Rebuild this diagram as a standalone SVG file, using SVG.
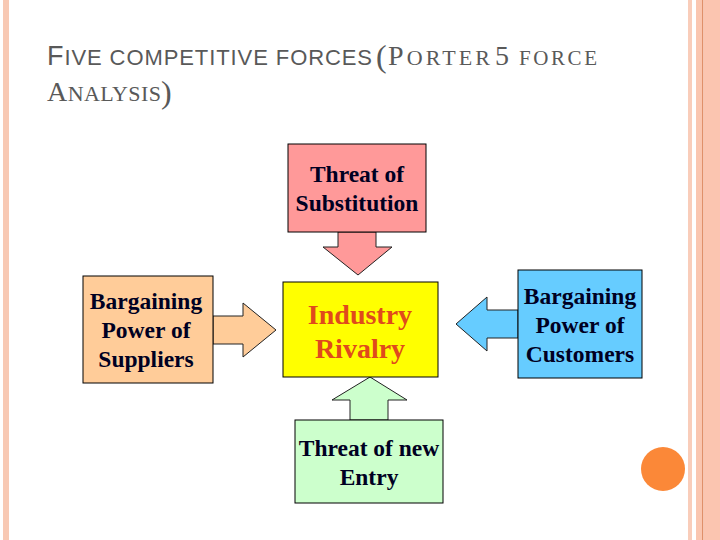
<svg xmlns="http://www.w3.org/2000/svg" width="720" height="540" viewBox="0 0 720 540">
<style>
.box{stroke:#000;stroke-width:1}
.arr{stroke:#222;stroke-width:1}
.lbl{font-family:"Liberation Serif","Times New Roman",serif;font-weight:bold;font-size:23.5px;fill:#000022;text-anchor:middle}
.core{font-family:"Liberation Serif","Times New Roman",serif;font-weight:bold;font-size:28px;fill:#E04A1C;text-anchor:middle}
.ts{font-family:"Liberation Sans",Arial,sans-serif;fill:#595959}
.tr{font-family:"Liberation Serif","Times New Roman",serif;fill:#595959}
</style>
<rect width="720" height="540" fill="#fff"/>
<g id="frame">
<rect x="3" y="0" width="6" height="540" fill="#F8C9B4"/>
<rect x="688" y="0" width="4" height="540" fill="#F9CDBA"/>
<rect x="696" y="0" width="6" height="540" fill="#FAC6B0"/>
<rect x="702" y="0" width="1.5" height="540" fill="#E0906A"/>
<rect x="703.5" y="0" width="16.5" height="540" fill="#FBC5B0"/>
<circle cx="663" cy="469" r="22" fill="#FB8838"/>
</g>
<g id="title">
<text class="ts" x="47" y="65" font-size="22" textLength="325" lengthAdjust="spacing"><tspan font-size="27">F</tspan>IVE COMPETITIVE FORCES</text>
<text class="tr" x="376" y="67" font-size="32">(</text>
<text class="tr" x="388" y="65" font-size="22" textLength="102" lengthAdjust="spacing"><tspan font-size="28">P</tspan>ORTER</text>
<text class="tr" x="495" y="65" font-size="28">5</text>
<text class="tr" x="519" y="65" font-size="21" textLength="78" lengthAdjust="spacing">FORCE</text>
<text class="tr" x="47" y="101" font-size="22" textLength="114" lengthAdjust="spacing"><tspan font-size="28">A</tspan>NALYSIS</text>
<text class="tr" x="161" y="103" font-size="32">)</text>
</g>
<g id="connectors">
<polygon class="arr" fill="#FF9999" points="338,232 376,232 376,247 392,247 358,275 323,247 338,247"/>
<polygon class="arr" fill="#FFCC99" points="213,316 243,316 243,303 276,330 243,357 243,344 213,344"/>
<polygon class="arr" fill="#66CCFF" points="518,310 487,310 487,297 456,324 487,351 487,338 518,338"/>
<polygon class="arr" fill="#CCFFCC" points="350,420 350,400 332,400 370,377 407,400 388,400 388,420"/>
</g>
<g id="substitution">
<rect class="box" x="288" y="144" width="138" height="88" fill="#FF9999"/>
<text class="lbl" x="357" y="182">Threat of</text>
<text class="lbl" x="357" y="211">Substitution</text>
</g>
<g id="suppliers">
<rect class="box" x="83" y="276" width="130" height="107" fill="#FFCC99"/>
<text class="lbl" x="146" y="309">Bargaining</text>
<text class="lbl" x="146" y="338">Power of</text>
<text class="lbl" x="146" y="367">Suppliers</text>
</g>
<g id="rivalry">
<rect class="box" x="283" y="282" width="155" height="95" fill="#FFFF00"/>
<text class="core" x="360" y="324">Industry</text>
<text class="core" x="360" y="358">Rivalry</text>
</g>
<g id="customers">
<rect class="box" x="518" y="270" width="124" height="108" fill="#66CCFF"/>
<text class="lbl" x="580" y="304">Bargaining</text>
<text class="lbl" x="580" y="333">Power of</text>
<text class="lbl" x="580" y="362">Customers</text>
</g>
<g id="entry">
<rect class="box" x="295" y="420" width="148" height="83" fill="#CCFFCC"/>
<text class="lbl" x="369" y="456">Threat of new</text>
<text class="lbl" x="369" y="485">Entry</text>
</g>
</svg>
